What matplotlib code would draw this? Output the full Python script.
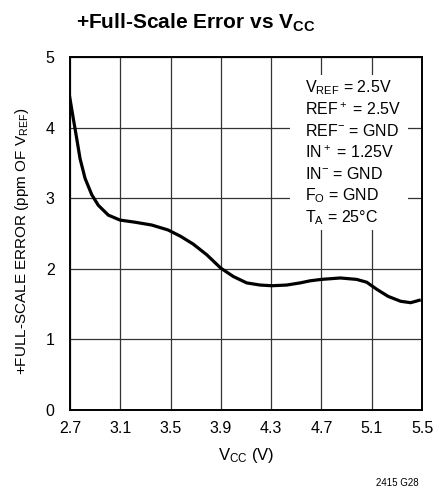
import numpy as np
import matplotlib
matplotlib.use('Agg')
import matplotlib.pyplot as plt
from matplotlib.patches import Rectangle

plt.rcParams['font.family'] = ['Liberation Sans', 'DejaVu Sans']
plt.rcParams['mathtext.fontset'] = 'custom'
plt.rcParams['mathtext.rm'] = 'Liberation Sans'
plt.rcParams['mathtext.it'] = 'Liberation Sans'
plt.rcParams['mathtext.bf'] = 'Liberation Sans:bold'

# data
vcc = [2.695, 2.726, 2.753, 2.78, 2.82, 2.873, 2.925, 3.005, 3.098, 3.217,
       3.35, 3.48, 3.58, 3.68, 3.787, 3.899, 4.0, 4.106, 4.212, 4.305,
       4.424, 4.53, 4.61, 4.70, 4.85, 4.98, 5.06, 5.14, 5.23, 5.33,
       5.41, 5.49]
err = [4.46, 4.13, 3.85, 3.56, 3.28, 3.05, 2.90, 2.76, 2.69, 2.66,
       2.62, 2.55, 2.46, 2.35, 2.20, 2.01, 1.89, 1.80, 1.77, 1.76,
       1.77, 1.80, 1.83, 1.85, 1.87, 1.85, 1.81, 1.71, 1.61, 1.54,
       1.52, 1.56]

xticks = [2.7, 3.1, 3.5, 3.9, 4.3, 4.7, 5.1, 5.5]
xtick_labels = ['2.7', '3.1', '3.5', '3.9', '4.3', '4.7', '5.1', '5.5']
yticks = [0, 1, 2, 3, 4, 5]

notes = [r'$\mathregular{V_{REF}}$ = 2.5V',
         r'REF$\mathregular{^+}$ = 2.5V',
         r'REF$\mathregular{^{-}}$ = GND',
         r'IN$\mathregular{^+}$ = 1.25V',
         r'IN$\mathregular{^{-}}$ = GND',
         r'$\mathregular{F_O}$ = GND',
         r'$\mathregular{T_A}$ = 25°C']

fig = plt.figure(figsize=(4.34, 4.97), dpi=100)
ax = fig.add_axes([70 / 434, 1 - 410 / 497, 352 / 434, 353 / 497])

ax.set_xlim(2.7, 5.5)
ax.set_ylim(0, 5)
ax.set_xticks(xticks)
ax.set_xticklabels(xtick_labels)
ax.set_yticks(yticks)
ax.tick_params(length=0, labelsize=11.5)
ax.tick_params(axis='x', pad=8)
ax.tick_params(axis='y', pad=11)
ax.grid(True, color='#333333', linewidth=0.9)
ax.set_axisbelow(True)
for s in ax.spines.values():
    s.set_linewidth(1.4)

# white patch behind the conditions text
ax.add_patch(Rectangle((0.625, 0.51), 0.335, 0.44, transform=ax.transAxes,
                       facecolor='white', edgecolor='none', zorder=1.5))

ax.plot(vcc, err, color='black', linewidth=2.3, zorder=3,
        solid_capstyle='butt', solid_joinstyle='round')

for i, t in enumerate(notes):
    ax.text(0.668, 0.912 - i * 0.061, t, transform=ax.transAxes,
            fontsize=11.5, va='center', ha='left', zorder=4)

ax.set_xlabel(r'$\mathregular{V_{CC}}$ (V)', fontsize=12, labelpad=7)
ax.set_ylabel(r'+FULL-SCALE ERROR (ppm OF $\mathregular{V_{REF}}$)',
              fontsize=11)
ax.yaxis.set_label_coords(-0.112, 0.479)

fig.text(0.45, 0.955, r'+Full-Scale Error vs $\mathbf{V_{CC}}$', fontsize=15,
         fontweight='bold', ha='center', va='center')
fig.text(0.965, 0.018, '2415 G28', fontsize=7, ha='right', va='bottom')

fig.savefig('out.png', dpi=100)
